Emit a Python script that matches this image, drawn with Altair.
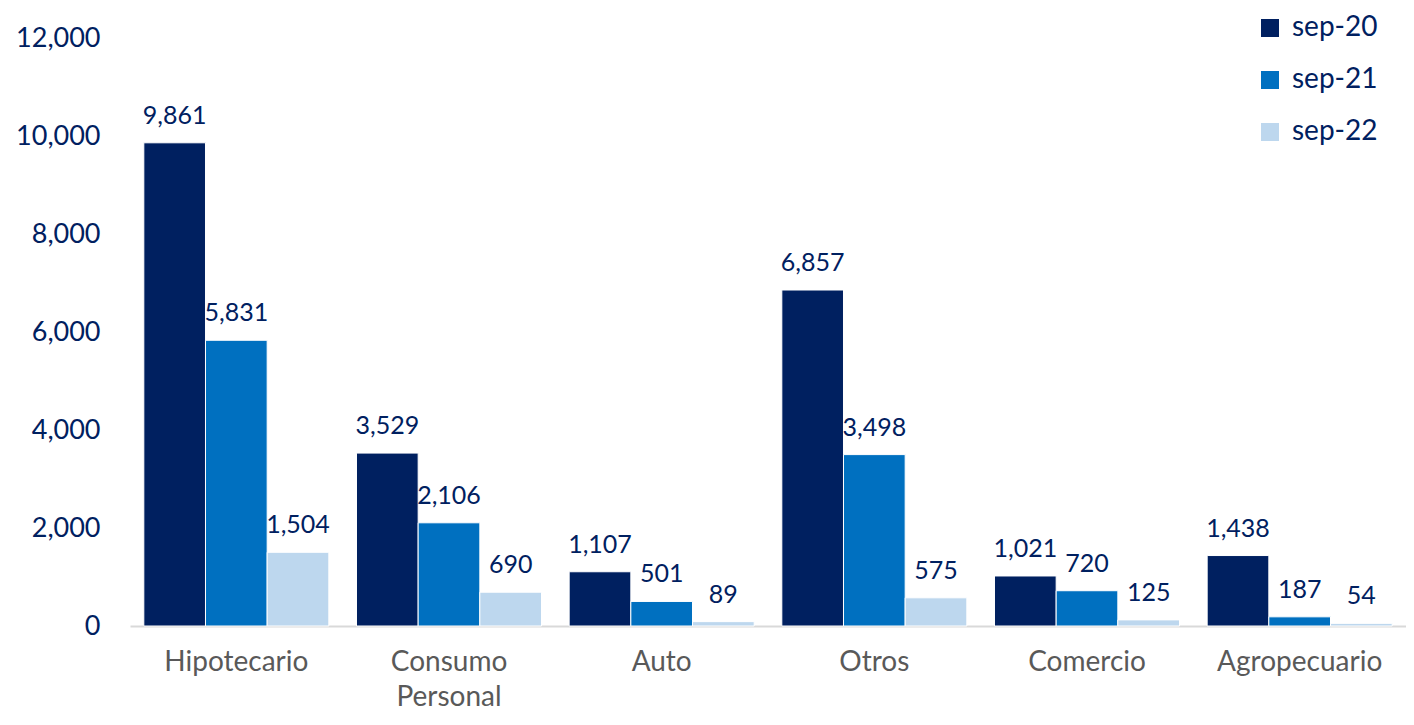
import altair as alt
import pandas as pd

categories = ["Hipotecario", "Consumo Personal", "Auto", "Otros", "Comercio", "Agropecuario"]
series = ["sep-20", "sep-21", "sep-22"]
sep20 = [9861, 3529, 1107, 6857, 1021, 1438]
sep21 = [5831, 2106, 501, 3498, 720, 187]
sep22 = [1504, 690, 89, 575, 125, 54]
colors = ["#002060", "#0070C0", "#BDD7EE"]

rows = []
for s, vals in zip(series, [sep20, sep21, sep22]):
    for c, v in zip(categories, vals):
        rows.append({"cat": c, "serie": s, "valor": v})
df = pd.DataFrame(rows)

FONT = "Lato"
NAVY = "#002060"

x = alt.X("cat:N", sort=categories,
          scale=alt.Scale(paddingInner=0.13, paddingOuter=0.065),
          axis=alt.Axis(title=None, labelAngle=0, labelFontSize=28, labelColor="#595959",
                        labelFont=FONT, labelPadding=22, ticks=False,
                        domainColor="#D9D9D9", domainWidth=2, labelLineHeight=35,
                        labelExpr="datum.label == 'Consumo Personal' ? ['Consumo', 'Personal'] : datum.label"))
xo = alt.XOffset("serie:N", sort=series, scale=alt.Scale(paddingInner=0, paddingOuter=0))
y = alt.Y("valor:Q", scale=alt.Scale(domain=[0, 12000], nice=False),
          axis=alt.Axis(title=None, values=[0, 2000, 4000, 6000, 8000, 10000, 12000],
                        format=",d", labelFontSize=27, labelColor=NAVY, labelFont=FONT,
                        labelPadding=30, ticks=False, domain=False, grid=False))

bars = alt.Chart(df).mark_bar(stroke="white", strokeWidth=1).encode(
    x=x, xOffset=xo, y=y,
    color=alt.Color("serie:N", sort=series, scale=alt.Scale(domain=series, range=colors),
                    legend=alt.Legend(title=None, orient="none", legendX=1126, legendY=-24,
                                      symbolType="square", symbolSize=324, symbolStrokeWidth=0,
                                      labelFontSize=28, labelColor=NAVY, labelFont=FONT,
                                      rowPadding=24, labelOffset=8)),
)

labels = alt.Chart(df).mark_text(baseline="bottom", dy=-14, fontSize=25, font=FONT, color=NAVY).encode(
    x=alt.X("cat:N", sort=categories), xOffset=xo, y="valor:Q",
    text=alt.Text("valor:Q", format=",d"),
)

chart = (bars + labels).properties(
    width=1276, height=588,
    autosize=alt.AutoSizeParams(type="none"),
    padding={"left": 122, "top": 30, "right": 0, "bottom": 87},
).configure_view(stroke=None).configure_axis(grid=False)

chart.save("out.html", embed_options={"renderer": "svg", "actions": False})
